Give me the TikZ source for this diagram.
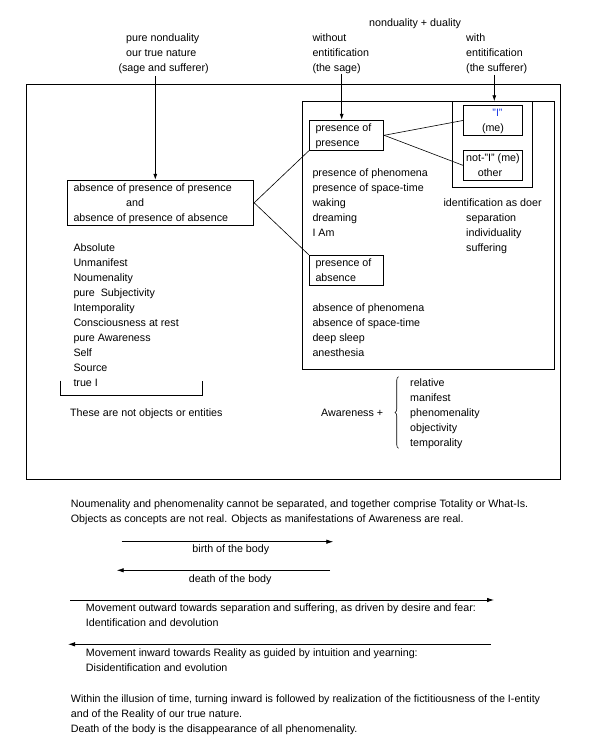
\documentclass[tikz,border=0pt]{standalone}
\usepackage{fontspec}
\setmainfont{Liberation Sans}
\usetikzlibrary{arrows.meta,decorations.pathreplacing}
\definecolor{iblue}{RGB}{30,60,230}
\begin{document}
\begin{tikzpicture}[x=1pt,y=-1pt,
  txt/.style={anchor=base west,inner sep=0pt,font=\fontsize{10.7}{15}\selectfont},
  ctxt/.style={anchor=base,inner sep=0pt,font=\fontsize{10.7}{15}\selectfont},
  boxn/.style={draw,line width=0.9pt,inner sep=0pt,minimum width=#1},
  frame/.style={draw,line width=0.9pt},
  conn/.style={line width=0.6pt},
  arr/.style={line width=0.8pt,-{Latex[length=6pt,width=4pt]}},
  bigarr/.style={line width=0.8pt,-{Latex[length=7pt,width=4.5pt]}}]
\useasboundingbox (0,0) rectangle (591,751);

% frames
\draw[frame] (26.7,84) rectangle (560,479);
\draw[frame] (302.3,101.3) rectangle (554.3,369);
\draw[frame] (452.3,101.3) rectangle (532.3,187.3);
\coordinate (innertop) at (494.3,101.3);

% boxes
\node[boxn=186.4pt,minimum height=45pt] (main) at (160.5,202.8) {};
\node[boxn=74.4pt,minimum height=30pt] (pp) at (346.5,135.3) {};
\node[boxn=74.4pt,minimum height=30pt] (pa) at (346.5,270.3) {};
\node[boxn=59pt,minimum height=30.4pt] (ib) at (492.8,120.5) {};
\node[boxn=59pt,minimum height=30pt] (nib) at (492.8,165.3) {};

% connectors
\draw[conn] (main.east) -- (pp.south west);
\draw[conn] (main.east) -- (pa.north west);
\draw[conn] (pp.east) -- (ib.west);
\draw[conn] (pp.east) -- (nib.west);

% top labels
\node[txt] (t1a) at (126,41.8) {pure nonduality};
\node[txt] (t1b) at (126,56.8) {our true nature};
\node[txt] (t1c) at (118.3,71.8) {(sage and sufferer)};
\node[txt] (t2) at (369,26.8) {nonduality + duality};
\node[txt] (t3a) at (312.3,41.8) {without};
\node[txt] (t3b) at (312.3,56.8) {entitification};
\node[txt] (t3c) at (312.3,71.8) {(the sage)};
\node[txt] (t4a) at (466,41.8) {with};
\node[txt] (t4b) at (466,56.8) {entitification};
\node[txt] (t4c) at (466,71.8) {(the sufferer)};

\coordinate (a1) at (155.3,76);
\coordinate (a2) at (341.7,74);
\coordinate (a3) at (494.3,75);
\draw[arr] (a1) -- (a1 |- main.north);
\draw[arr] (a2) -- (a2 |- pp.north);
\draw[arr] (a3) -- (innertop);

% main box text
\node[txt] (m1) at (73.3,191.8) {absence of presence of presence};
\node[txt] (m2) at (126,206.8) {and};
\node[txt] (m3) at (73.3,221.8) {absence of presence of absence};

% left list
\foreach \t [count=\i from 0] in {Absolute,Unmanifest,Noumenality,pure\ \ Subjectivity,Intemporality,Consciousness at rest,pure Awareness,Self,Source,true I}
  \node[txt] (L\i) at (73.3,251.8+15*\i) {\t};
\draw[line width=0.9pt] (60.3,380.7) -- (60.3,395) -- (202.3,395) -- (202.3,380.7);
\node[txt] (nobj) at (70,416.8) {These are not objects or entities};

% inner box texts
\node[txt] (pp1) at (315.3,131.8) {presence of};
\node[txt] (pp2) at (315.3,146.8) {presence};
\foreach \t [count=\i from 0] in {presence of phenomena,presence of space-time,waking,dreaming,I Am}
  \node[txt] (P\i) at (312.3,176.8+15*\i) {\t};
\node[txt] (id0) at (443.3,206.8) {identification as doer};
\foreach \t [count=\i from 1] in {separation,individuality,suffering}
  \node[txt] (id\i) at (466,206.8+15*\i) {\t};
\node[txt] (pa1) at (315.3,266.8) {presence of};
\node[txt] (pa2) at (315.3,281.8) {absence};
\foreach \t [count=\i from 0] in {absence of phenomena,absence of space-time,deep sleep,anesthesia}
  \node[txt] (A\i) at (312.3,311.8+15*\i) {\t};

% I boxes text
\node[ctxt,text=iblue] (ib1) at (497.5,116.8) {"I"};
\node[ctxt] (ib2) at (493,131.8) {(me)};
\node[txt] (nib1) at (466,161.8) {not-"I" (me)};
\node[ctxt] (nib2) at (490,176.8) {other};

% Awareness brace
\node[txt] (aw) at (321,416.8) {Awareness +};
\draw[line width=0.6pt,decorate,decoration={brace,amplitude=3.5pt}] (398.5,448.3) -- (398.5,376.7);
\foreach \t [count=\i from 0] in {relative,manifest,phenomenality,objectivity,temporality}
  \node[txt] (R\i) at (410,386.8+15*\i) {\t};

% bottom text
\node[txt] (b1) at (70.7,507.5) {Noumenality and phenomenality cannot be separated, and together comprise Totality or What-Is.};
\node[txt] (b2) at (70.7,522) {Objects as concepts are not real. Objects as manifestations of Awareness are real.};

\coordinate (bs) at (121.7,541.7);
\coordinate (be) at (333.3,541.7);
\draw[bigarr] (bs) -- (be);
\node[ctxt] (birth) at (230.8,552.2) {birth of the body};
\coordinate (ds) at (330,570.3);
\coordinate (de) at (116.7,570.3);
\draw[bigarr] (ds) -- (de);
\node[ctxt] (death) at (230.2,582.2) {death of the body};

\coordinate (os) at (70,600);
\coordinate (oe) at (494,600);
\draw[bigarr] (os) -- (oe);
\node[txt] (o1) at (85.7,611.8) {Movement outward towards separation and suffering, as driven by desire and fear:};
\node[txt] (o2) at (85.7,626.8) {Identification and devolution};
\coordinate (is) at (490.7,644.3);
\coordinate (ie) at (68,644.3);
\draw[bigarr] (is) -- (ie);
\node[txt] (i1) at (85.7,656.8) {Movement inward towards Reality as guided by intuition and yearning:};
\node[txt] (i2) at (85.7,671.8) {Disidentification and evolution};

\node[txt] (w1) at (70.7,702.5) {Within the illusion of time, turning inward is followed by realization of the fictitiousness of the I-entity};
\node[txt] (w2) at (70.7,717.5) {and of the Reality of our true nature.};
\node[txt] (w3) at (70.7,732.5) {Death of the body is the disappearance of all phenomenality.};
\end{tikzpicture}
\end{document}
